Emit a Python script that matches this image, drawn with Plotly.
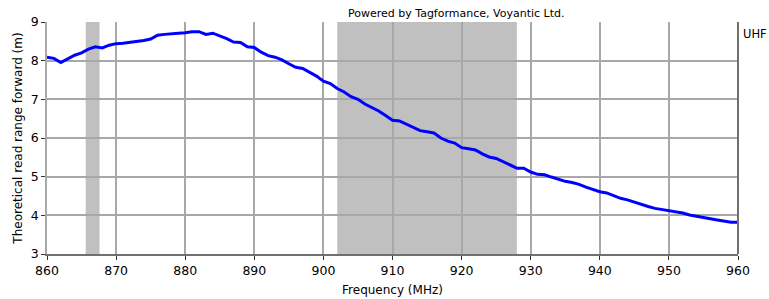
import plotly.graph_objects as go

freq = list(range(860, 961))
read_range = [
    8.09, 8.06, 7.95, 8.05, 8.14, 8.20, 8.30, 8.36, 8.33, 8.40,
    8.44, 8.45, 8.47, 8.49, 8.52, 8.56, 8.66, 8.68, 8.70, 8.71,
    8.72, 8.75, 8.75, 8.68, 8.71, 8.65, 8.57, 8.48, 8.47, 8.36,
    8.34, 8.22, 8.13, 8.09, 8.02, 7.92, 7.83, 7.80, 7.70, 7.60,
    7.47, 7.41, 7.28, 7.19, 7.07, 7.00, 6.88, 6.80, 6.70, 6.58,
    6.46, 6.44, 6.35, 6.27, 6.19, 6.16, 6.13, 6.00, 5.92, 5.87,
    5.75, 5.72, 5.69, 5.59, 5.51, 5.47, 5.39, 5.30, 5.22, 5.22,
    5.12, 5.06, 5.05, 4.99, 4.93, 4.88, 4.85, 4.80, 4.73, 4.66,
    4.61, 4.58, 4.50, 4.44, 4.40, 4.34, 4.27, 4.23, 4.18, 4.15,
    4.13, 4.10, 4.06, 4.01, 3.97, 3.94, 3.91, 3.88, 3.85, 3.82,
    3.82,
]
bands = [(865.6, 867.6), (902.0, 928.0)]
x_ticks = list(range(860, 961, 10))
y_ticks = list(range(3, 10))

font = "DejaVu Sans, Verdana, sans-serif"
fig = go.Figure()
fig.add_trace(go.Scatter(x=freq, y=read_range, mode="lines",
                         line=dict(color="#0000ff", width=3), showlegend=False))
for a, b in bands:
    fig.add_vrect(x0=a, x1=b, fillcolor="#c0c0c0", opacity=1, line_width=0, layer="below")

fig.update_layout(
    width=769, height=299,
    margin=dict(l=47, r=31, t=22, b=45, autoexpand=False),
    paper_bgcolor="white", plot_bgcolor="rgba(0,0,0,0)",
    font=dict(family=font, size=12, color="#000000"),
    annotations=[
        dict(text="Powered by Tagformance, Voyantic Ltd.", xref="paper", yref="paper",
             x=0.592, y=1.0, xanchor="center", yanchor="bottom", showarrow=False,
             font=dict(size=11, color="#000")),
        dict(text="UHF", xref="paper", yref="paper", x=1.004, y=0.985,
             xanchor="left", yanchor="top", showarrow=False, font=dict(size=11.5)),
    ],
)
fig.update_xaxes(range=[860, 960], tickvals=x_ticks, showgrid=True, gridcolor="#a8a8a8",
                 gridwidth=1.5, showline=True, linecolor="#707070", linewidth=2,
                 ticks="outside", ticklen=4, tickcolor="#333", mirror=False, automargin=False,
                 title=dict(text="Frequency (MHz)", font=dict(size=12), standoff=9),
                 tickfont=dict(size=12.5), zeroline=False, layer="below traces")
fig.update_yaxes(range=[3, 9], tickvals=y_ticks, showgrid=True, gridcolor="#a8a8a8",
                 gridwidth=1.5, showline=True, linecolor="#a8a8a8", linewidth=1.5,
                 ticks="outside", ticklen=4, tickcolor="#333", automargin=False,
                 title=dict(text="Theoretical read range forward (m)", font=dict(size=12), standoff=6),
                 tickfont=dict(size=12.5), zeroline=False)
# right border
fig.add_shape(type="line", xref="paper", yref="paper", x0=1, x1=1, y0=0, y1=1,
              line=dict(color="#707070", width=2))
fig.write_html("out.html", config={"displayModeBar": False},
               post_script="document.body.style.margin='0';document.body.style.overflow='hidden';")
